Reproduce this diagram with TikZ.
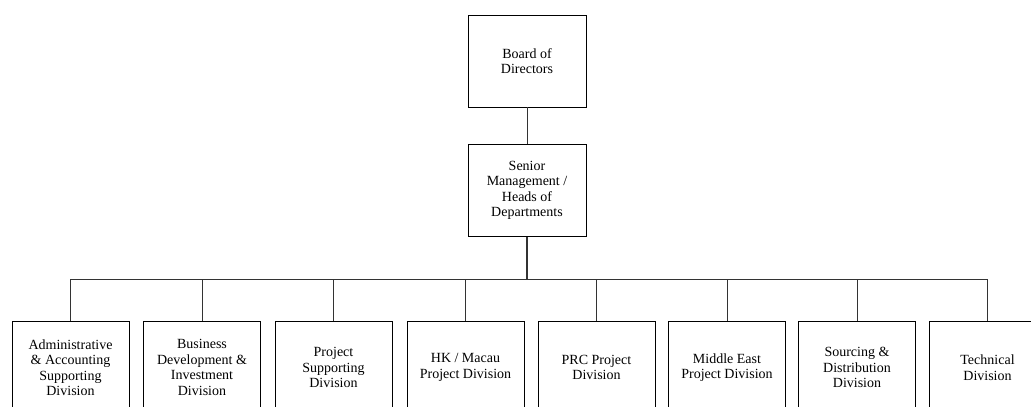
\documentclass[tikz,border=0pt]{standalone}
\usepackage{fontspec}
\setmainfont{Liberation Serif}

\tikzset{
  box/.style={draw, rectangle, line width=0.9pt, inner sep=0pt, align=center,
    minimum width=118pt, minimum height=92pt,
    font=\fontsize{14}{15.5}\selectfont},
  divbox/.style={box, minimum width=117pt, minimum height=93pt},
  link/.style={line width=0.9pt, draw=black!80}
}

\begin{document}
\begin{tikzpicture}[x=1pt, y=-1pt]
  \useasboundingbox (0,0) rectangle (1031,407);
  \node[box] (board) at (527,61) {Board of\\Directors};
  \node[box] (senior) at (527,190.5) {Senior\\Management /\\Heads of\\Departments};
  \coordinate (bus) at (527,279);
  % Divisions
  \node[divbox] (adm) at (70.5,367.5) {Administrative\\\& Accounting\\Supporting\\Division};
  \node[divbox] (bdi) at (202,367.5) {Business\\Development \&\\Investment\\Division};
  \node[divbox] (psd) at (333.5,367.5) {Project\\Supporting\\Division};
  \node[divbox] (hkm) at (465.5,367.5) {HK / Macau\\Project Division};
  \node[divbox] (prc) at (596.5,367.5) {PRC Project\\Division};
  \node[divbox] (mde) at (727,367.5) {Middle East\\Project Division};
  \node[divbox] (sdd) at (857,367.5) {Sourcing \&\\Distribution\\Division};
  \node[divbox] (tec) at (987.5,367.5) {Technical\\Division};
  % Draw the reporting lines
  \draw[link] (board) -- (senior);
  \draw[link, line width=1.4pt] (senior) -- (bus);
  \foreach \d in {adm,bdi,psd,hkm,prc,mde,sdd,tec}
    \draw[link] (bus) -| (\d.north);
\end{tikzpicture}
\end{document}
